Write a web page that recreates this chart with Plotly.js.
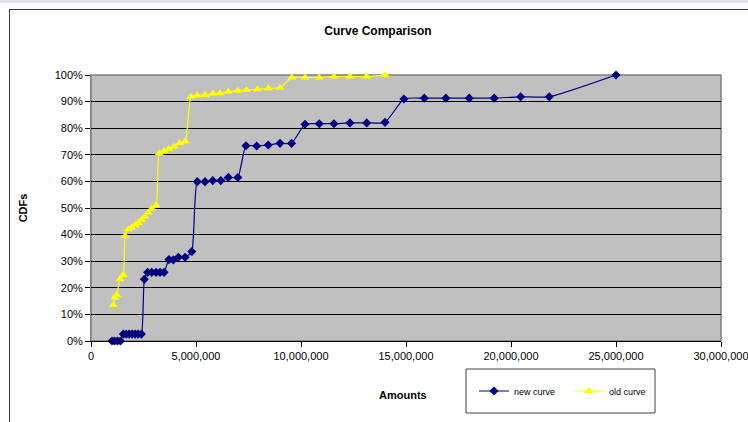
<!DOCTYPE html>
<html>
<head>
<meta charset="utf-8">
<script src="https://cdn.plot.ly/plotly-3.0.1.min.js"></script>
<style>
  html, body { margin: 0; padding: 0; background: #ffffff; overflow: hidden; }
  #wrap { position: relative; width: 748px; height: 422px; overflow: hidden; }
  #chart { position: absolute; left: 0; top: 0; width: 748px; height: 422px; }
  #topstrip { position: absolute; left: 0; top: 0; width: 748px; height: 3px; background: #dde3ea; pointer-events: none; }
  #frame { position: absolute; left: 9px; top: 9px; width: 760px; height: 430px; border: 1.5px solid #3a3a3a; pointer-events: none; }
</style>
</head>
<body>
<div id="wrap">
  <div id="chart"></div>
  <div id="topstrip"></div>
  <div id="frame"></div>
</div>
<script>
// Amounts in millions, CDF in percent
const newCurveX = [1.00, 1.12, 1.26, 1.40, 1.54, 1.68, 1.82, 1.96, 2.10, 2.24, 2.40,
  2.54, 2.70, 2.89, 3.10, 3.29, 3.48, 3.71, 3.92, 4.16, 4.48, 4.80,
  5.06, 5.43, 5.80, 6.18, 6.54, 6.99, 7.38, 7.89, 8.44, 9.00, 9.55,
  10.19, 10.87, 11.57, 12.33, 13.13, 14.00, 14.90, 15.87, 16.90, 18.01,
  19.20, 20.46, 21.82, 25.00];
const newCurveY = [0, 0, 0, 0, 2.6, 2.6, 2.6, 2.6, 2.6, 2.6, 2.6,
  23.2, 25.8, 25.8, 25.8, 25.8, 25.8, 30.6, 30.5, 31.5, 31.5, 33.6,
  59.9, 59.9, 60.3, 60.3, 61.5, 61.5, 73.4, 73.3, 73.7, 74.3, 74.3,
  81.5, 81.7, 81.7, 82.0, 82.0, 82.2, 91.0, 91.3, 91.3, 91.3,
  91.3, 91.8, 91.8, 100];

const oldCurveX = [1.06, 1.14, 1.22, 1.38, 1.54, 1.62, 1.78, 1.94, 2.10, 2.25, 2.41,
  2.57, 2.73, 2.89, 3.10, 3.25, 3.48, 3.70, 3.95, 4.22, 4.49, 4.76,
  5.06, 5.43, 5.80, 6.14, 6.54, 6.99, 7.40, 7.92, 8.44, 9.00, 9.56,
  10.19, 10.87, 11.57, 12.33, 13.13, 14.00];
const oldCurveY = [13.5, 16.4, 17.3, 23.2, 24.8, 39.5, 42.0, 42.7, 43.6, 44.4, 45.5,
  46.7, 48.2, 49.8, 50.9, 70.6, 71.4, 72.1, 73.0, 74.3, 75.0, 91.8,
  92.3, 92.5, 93.0, 93.1, 93.7, 94.1, 94.4, 94.6, 95.0, 95.2, 99.1,
  99.1, 99.1, 99.4, 99.4, 99.4, 100];

const seriesNames = ["new curve", "old curve"];
const xTitle = "Amounts";
const yTitle = "CDFs";
const xTickVals = [0, 5, 10, 15, 20, 25, 30];
const xTickText = ["0", "5,000,000", "10,000,000", "15,000,000", "20,000,000", "25,000,000", "30,000,000"];
const yTickVals = [0, 10, 20, 30, 40, 50, 60, 70, 80, 90, 100];
const yTickText = ["0%", "10%", "20%", "30%", "40%", "50%", "60%", "70%", "80%", "90%", "100%"];

const FONT = "Arial, 'Liberation Sans', sans-serif";

const traces = [
  {
    x: newCurveX, y: newCurveY, name: seriesNames[0], type: "scatter", mode: "lines+markers",
    line: { color: "#000080", width: 1.2, shape: "spline", smoothing: 0.5 },
    marker: { symbol: "diamond", size: 7, color: "#000080" },
    cliponaxis: false
  },
  {
    x: oldCurveX, y: oldCurveY, name: seriesNames[1], type: "scatter", mode: "lines+markers",
    line: { color: "#FFFF00", width: 1.2, shape: "spline", smoothing: 0.5 },
    marker: { symbol: "triangle-up", size: 8, color: "#FFFF00" },
    cliponaxis: false
  }
];

const layout = {
  width: 748, height: 422,
  margin: { l: 91, r: 27, t: 75, b: 81, autoexpand: false },
  paper_bgcolor: "#ffffff",
  plot_bgcolor: "#C0C0C0",
  font: { family: FONT, size: 11, color: "#000000" },
  title: {
    text: "<b>Curve Comparison</b>",
    font: { family: FONT, size: 12, color: "#000000" },
    x: 378 / 748, xref: "container", xanchor: "center",
    y: 1 - 31 / 422, yref: "container", yanchor: "middle"
  },
  xaxis: {
    range: [0, 30], tickvals: xTickVals, ticktext: xTickText,
    showgrid: false, zeroline: false,
    showline: true, linecolor: "#000000", linewidth: 1,
    ticks: "outside", ticklen: 5, tickcolor: "#000000",
    tickfont: { family: FONT, size: 11, color: "#000000" },
    ticklabeloverflow: "allow",
    automargin: false, fixedrange: true
  },
  yaxis: {
    range: [0, 100], tickvals: yTickVals, ticktext: yTickText,
    showgrid: true, gridcolor: "#000000", gridwidth: 1, zeroline: false,
    showline: true, linecolor: "#808080", linewidth: 1,
    ticks: "outside", ticklen: 5, tickcolor: "#000000",
    tickfont: { family: FONT, size: 11, color: "#000000" },
    title: { text: "<b>" + yTitle + "</b>", font: { family: FONT, size: 11, color: "#000000" }, standoff: 24 },
    automargin: true, fixedrange: true
  },
  annotations: [
    { text: "<b>" + xTitle + "</b>", xref: "paper", yref: "paper",
      x: (403 - 91) / 630, y: -(395 - 341) / 266, xanchor: "center", yanchor: "middle",
      showarrow: false, font: { family: FONT, size: 11, color: "#000000" } }
  ],
  shapes: [
    { type: "rect", xref: "paper", yref: "paper", x0: 0, x1: 1, y0: 0, y1: 1,
      line: { color: "#808080", width: 1.5 }, layer: "below" },
    { type: "rect", xref: "paper", yref: "paper",
      x0: (466 - 91) / 630, x1: (655 - 91) / 630,
      y0: -(413 - 341) / 266, y1: -(369 - 341) / 266,
      line: { color: "#404040", width: 1 }, fillcolor: "rgba(0,0,0,0)" }
  ],
  showlegend: true,
  legend: {
    orientation: "h",
    xref: "container", yref: "container",
    x: 474 / 748, xanchor: "left",
    y: 1 - 391 / 422, yanchor: "middle",
    bgcolor: "rgba(0,0,0,0)", borderwidth: 0,
    font: { family: FONT, size: 9, color: "#000000" },
    entrywidth: 50, entrywidthmode: "pixels", itemwidth: 30
  }
};

Plotly.newPlot("chart", traces, layout, { displayModeBar: false, staticPlot: true });
</script>
</body>
</html>
